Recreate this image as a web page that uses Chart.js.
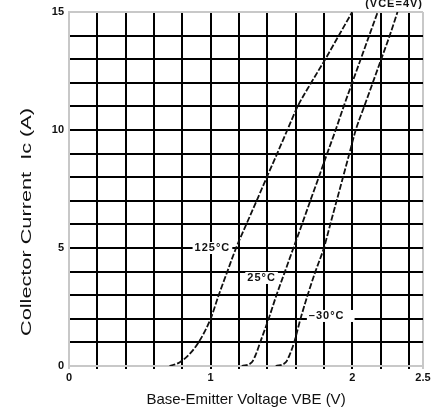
<!DOCTYPE html>
<html>
<head>
<meta charset="utf-8">
<script src="https://cdn.jsdelivr.net/npm/chart.js@4.4.1/dist/chart.umd.min.js"></script>
<style>
  html, body { margin: 0; padding: 0; background: #fff; }
  .chart-container { width: 437px; height: 413px; }
</style>
</head>
<body>
<div class="chart-container"><canvas id="chart"></canvas></div>
<script>
// collector current steps (A), shared by every curve
const icValues = [0, 0.15, 0.5, 1, 2, 3, 4, 5, 6, 7, 8, 9, 10, 11, 12, 13, 14, 15];

// base-emitter voltage (V) at those currents
const vbe125 = [0.71, 0.78, 0.85, 0.915, 1.0, 1.057, 1.118, 1.18, 1.252, 1.325, 1.397, 1.47, 1.542, 1.615, 1.71, 1.81, 1.905, 2.0];
const vbe25 = [1.22, 1.29, 1.32, 1.35, 1.41, 1.465, 1.525, 1.585, 1.645, 1.704, 1.764, 1.823, 1.883, 1.94, 2.0, 2.06, 2.12, 2.18];
const vbeMinus30 = [1.46, 1.53, 1.56, 1.59, 1.635, 1.685, 1.74, 1.80, 1.845, 1.89, 1.935, 1.98, 2.025, 2.085, 2.145, 2.205, 2.265, 2.32];

const seriesNames = ["125°C", "25°C", "–30°C"];

// tick layout
const xTickValues = [0, 0.2, 0.4, 0.6, 0.8, 1, 1.2, 1.4, 1.6, 1.8, 2, 2.2, 2.4, 2.5];
const xLabelValues = [0, 1, 2, 2.5];
const yLabelStep = 5;

// curve labels, placed in data units
const labelX = [1.013, 1.36, 1.82];
const labelY = [5.0, 3.73, 2.12];

const toPoints = (xs) => xs.map((x, i) => ({ x: x, y: icValues[i] }));

const edgeGrey = "#c8c8c8";
const sans = "'Liberation Sans', Arial, sans-serif";

const curveStyle = {
  showLine: true,
  pointRadius: 0,
  borderColor: "#111",
  borderWidth: 1.8,
  borderDash: [6, 2],
  cubicInterpolationMode: "monotone",
  fill: false,
};

const textPlugin = {
  id: "textPlugin",
  afterDraw(chart) {
    const ctx = chart.ctx;
    const xs = chart.scales.x;
    const ys = chart.scales.y;
    ctx.save();

    // curve labels with white boxes over the grid
    ctx.font = "bold 11px " + sans;
    ctx.letterSpacing = "1px";
    ctx.textAlign = "center";
    ctx.textBaseline = "middle";
    seriesNames.forEach((name, i) => {
      const px = xs.getPixelForValue(labelX[i]);
      const py = ys.getPixelForValue(labelY[i]);
      const w = ctx.measureText(name).width;
      ctx.fillStyle = "#fff";
      const extra = i === 2 ? 8 : 0;
      ctx.fillRect(px - w / 2 - 2, py - 6, w + 4 + extra, 12);
      ctx.fillStyle = "#111";
      ctx.fillText(name, px, py);
    });

    // test condition at top right
    ctx.font = "bold 11px " + sans;
    ctx.textAlign = "right";
    ctx.textBaseline = "alphabetic";
    ctx.fillText("(VCE=4V)", 423, 7);
    ctx.letterSpacing = "0px";

    // y axis title, sits lower than the axis centre and is stretched
    const yTitle = "Collector Current  Ic (A)";
    ctx.font = "15px " + sans;
    const tw = ctx.measureText(yTitle).width;
    ctx.translate(27, 222);
    ctx.rotate(-Math.PI / 2);
    ctx.scale(228 / tw, 1);
    ctx.textAlign = "center";
    ctx.textBaseline = "middle";
    ctx.fillText(yTitle, 0, 0);
    ctx.restore();
  },
};

const config = {
  type: "scatter",
  data: {
    datasets: [
      Object.assign({ label: seriesNames[0], data: toPoints(vbe125) }, curveStyle),
      Object.assign({ label: seriesNames[1], data: toPoints(vbe25) }, curveStyle),
      Object.assign({ label: seriesNames[2], data: toPoints(vbeMinus30) }, curveStyle),
    ],
  },
  options: {
    responsive: false,
    animation: false,
    layout: { padding: { left: 0, right: 14, top: 12, bottom: 0 } },
    plugins: {
      legend: { display: false },
      tooltip: { enabled: false },
    },
    scales: {
      x: {
        type: "linear",
        min: 0,
        max: 2.5,
        afterBuildTicks: (scale) => {
          scale.ticks = xTickValues.map((v) => ({ value: v }));
        },
        afterFit: (scale) => {
          scale.height = 47;
        },
        grid: {
          color: (c) => (c.tick && (c.tick.value === 0 || c.tick.value === 2.5) ? edgeGrey : "#000"),
          lineWidth: 2,
          drawTicks: true,
          tickLength: 3,
        },
        border: { display: true, color: edgeGrey, width: 2 },
        ticks: {
          autoSkip: false,
          maxRotation: 0,
          padding: 2,
          color: "#111",
          font: { family: sans, size: 11, weight: "bold" },
          callback: (value) => (xLabelValues.includes(value) ? String(value) : ""),
        },
        title: {
          display: true,
          text: "Base-Emitter Voltage VBE (V)",
          color: "#111",
          font: { family: sans, size: 15 },
          padding: { top: 0, bottom: 4 },
        },
      },
      y: {
        type: "linear",
        min: 0,
        max: 15,
        afterFit: (scale) => {
          scale.width = 69;
        },
        grid: {
          color: (c) => (c.tick && (c.tick.value === 0 || c.tick.value === 15) ? edgeGrey : "#000"),
          lineWidth: 2,
          drawTicks: false,
        },
        border: { display: true, color: edgeGrey, width: 2 },
        ticks: {
          stepSize: 1,
          padding: 5,
          color: "#111",
          font: { family: sans, size: 11, weight: "bold" },
          callback: (value) => (value % yLabelStep === 0 ? String(value) : ""),
        },
      },
    },
  },
  plugins: [textPlugin],
};

const canvas = document.getElementById("chart");
canvas.width = 437;
canvas.height = 413;
new Chart(canvas.getContext("2d"), config);
</script>
</body>
</html>
